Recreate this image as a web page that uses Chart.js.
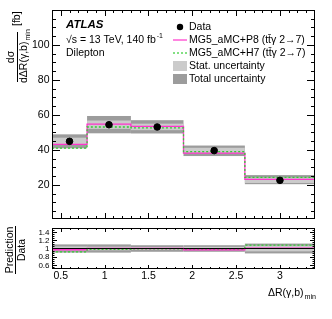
<!DOCTYPE html>
<html>
<head>
<meta charset="utf-8">
<script src="https://cdn.jsdelivr.net/npm/chart.js@4"></script>
<style>
  body { margin: 0; background: #fff; }
  #wrap { position: relative; width: 332px; height: 319px; }
  canvas { position: absolute; left: 0; }
  #mainChart { top: 0; }
  #ratioChart { top: 224px; }
</style>
</head>
<body>
<div id="wrap">
  <canvas id="mainChart" width="332" height="224"></canvas>
  <canvas id="ratioChart" width="332" height="95"></canvas>
</div>
<script>
// Binning and values
const binEdges = [0.4, 0.8, 1.3, 1.9, 2.6, 3.4];
const binCenters = [0.6, 1.05, 1.6, 2.25, 3.0];
const dataValues = [44.9, 54.4, 53.1, 39.6, 22.6];
const p8Values = [43.2, 54.7, 53.5, 38.2, 23.2];
const h7Values = [41.0, 53.1, 52.6, 39.0, 24.3];
const statUp = [2.1, 2.4, 1.9, 1.6, 1.6];
const statDown = [2.0, 2.4, 1.8, 1.6, 1.5];
const totalUp = [4.0, 5.0, 3.9, 2.9, 3.0];
const totalDown = [4.0, 4.9, 3.7, 3.1, 2.2];

// Ratio panel
const ratioP8 = [0.97, 1.0, 1.0, 0.97, 1.01];
const ratioH7 = [0.92, 0.98, 0.99, 0.99, 1.08];
const ratioStat = [0.05, 0.045, 0.036, 0.04, 0.07];
const ratioTotal = [0.1, 0.1, 0.08, 0.08, 0.12];

// Tick labels
const mainYTicks = [20, 40, 60, 80, 100];
const ratioYTicks = [0.6, 0.8, 1, 1.2, 1.4];
const xTicks = [0.5, 1, 1.5, 2, 2.5, 3];

const FONT = '"Liberation Sans", Arial, sans-serif';
const MAGENTA = '#ff33cc';
const GREEN = '#33cc33';
const STAT_COL = '#cbcbcb';
const TOTAL_COL = '#9c9c9c';

// step line points from bin edges (last bin repeated at the right edge)
function steps(vals) {
  return binEdges.map((x, i) => ({ x, y: vals[Math.min(i, vals.length - 1)] }));
}

// --- shared plugins ---
function bandPlugin(getBands) {
  return {
    id: 'bands',
    beforeDatasetsDraw(chart) {
      const { ctx, scales: { x, y }, chartArea } = chart;
      ctx.save();
      ctx.beginPath();
      ctx.rect(chartArea.left, chartArea.top, chartArea.width, chartArea.height);
      ctx.clip();
      getBands().forEach((b) => {
        ctx.fillStyle = b.color;
        for (let i = 0; i < b.lo.length; i++) {
          const x0 = x.getPixelForValue(binEdges[i]);
          const x1 = x.getPixelForValue(binEdges[i + 1]);
          const y0 = y.getPixelForValue(b.hi[i]);
          const y1 = y.getPixelForValue(b.lo[i]);
          ctx.fillRect(x0, y0, x1 - x0, y1 - y0);
        }
      });
      ctx.restore();
    }
  };
}

// frame, inward ROOT-style ticks and tick labels
function framePlugin(opt) {
  return {
    id: 'frame',
    afterDraw(chart) {
      const { ctx, scales: { x, y }, chartArea: a } = chart;
      ctx.save();
      ctx.strokeStyle = '#000';
      ctx.lineWidth = 1;
      ctx.strokeRect(Math.round(a.left) + 0.5, Math.round(a.top) + 0.5,
        Math.round(a.width) - 1, Math.round(a.height) - 1);
      ctx.beginPath();
      for (let v = opt.yMinorStart; v <= y.max + 1e-9; v += opt.yMinor) {
        const isMajor = Math.abs(v / opt.yMajor - Math.round(v / opt.yMajor)) < 1e-6;
        const len = isMajor ? opt.yMajorLen : opt.yMajorLen / 2;
        const py = Math.round(y.getPixelForValue(v)) + 0.5;
        if (py < a.top + 1 || py > a.bottom - 1) continue;
        ctx.moveTo(a.left, py); ctx.lineTo(a.left + len, py);
        ctx.moveTo(a.right, py); ctx.lineTo(a.right - len, py);
      }
      for (let v = 0.4; v <= x.max + 1e-9; v += 0.1) {
        const isMajor = Math.abs(v / 0.5 - Math.round(v / 0.5)) < 1e-6;
        const len = isMajor ? opt.xMajorLen : opt.xMajorLen / 2;
        const px = Math.round(x.getPixelForValue(v)) + 0.5;
        if (px < a.left + 1 || px > a.right - 1) continue;
        ctx.moveTo(px, a.bottom); ctx.lineTo(px, a.bottom - len);
        ctx.moveTo(px, a.top); ctx.lineTo(px, a.top + len);
      }
      ctx.stroke();

      ctx.fillStyle = '#000';
      ctx.textBaseline = 'middle';
      ctx.textAlign = 'right';
      ctx.font = opt.yLabelSize + 'px ' + FONT;
      opt.yLabels.forEach((v) => {
        ctx.fillText(String(v), a.left - 2.5, y.getPixelForValue(v) + 0.5);
      });
      if (opt.xLabels) {
        ctx.textAlign = 'center';
        ctx.font = '10.5px ' + FONT;
        opt.xLabels.forEach((v) => {
          ctx.fillText(String(v), x.getPixelForValue(v), a.bottom + 7.5);
        });
      }
      ctx.restore();
      if (opt.extra) opt.extra(chart);
    }
  };
}

function subText(ctx, main, sub, x, y, size) {
  ctx.font = size + 'px ' + FONT;
  ctx.fillText(main, x, y);
  const w = ctx.measureText(main).width;
  ctx.font = (size * 0.68) + 'px ' + FONT;
  ctx.fillText(sub, x + w + 1, y + size * 0.35);
  return w + ctx.measureText(sub).width + 1;
}

// labels on the main pad: ATLAS text, legend, y title
function mainLabels(chart) {
  const { ctx } = chart;
  ctx.save();
  ctx.fillStyle = '#000';
  ctx.textBaseline = 'middle';
  ctx.textAlign = 'left';
  ctx.font = 'italic bold 11.5px ' + FONT;
  ctx.fillText('ATLAS', 66, 25);
  ctx.font = '10.5px ' + FONT;
  ctx.fillText('\u221As = 13 TeV, 140 fb', 66, 40);
  const w = ctx.measureText('\u221As = 13 TeV, 140 fb').width;
  ctx.font = '7px ' + FONT;
  ctx.fillText('-1', 66 + w + 1, 36);
  ctx.font = '10.5px ' + FONT;
  ctx.fillText('Dilepton', 66, 53);

  // legend
  const lx = 173, tx = 189;
  const rows = [27, 40, 53, 66, 79];
  ctx.beginPath();
  ctx.arc(180, rows[0], 3.2, 0, Math.PI * 2);
  ctx.fill();
  ctx.strokeStyle = MAGENTA;
  ctx.lineWidth = 1.2;
  ctx.beginPath(); ctx.moveTo(lx, rows[1]); ctx.lineTo(lx + 14, rows[1]); ctx.stroke();
  ctx.strokeStyle = GREEN;
  ctx.setLineDash([2, 2]);
  ctx.beginPath(); ctx.moveTo(lx, rows[2]); ctx.lineTo(lx + 14, rows[2]); ctx.stroke();
  ctx.setLineDash([]);
  ctx.fillStyle = STAT_COL;
  ctx.fillRect(lx, rows[3] - 5, 14, 10);
  ctx.fillStyle = TOTAL_COL;
  ctx.fillRect(lx, rows[4] - 5, 14, 10);
  ctx.fillStyle = '#000';
  ctx.font = '10.5px ' + FONT;
  const labels = ['Data', 'MG5_aMC+P8 (tt\u0304\u03B3 2\u21927)', 'MG5_aMC+H7 (tt\u0304\u03B3 2\u21927)',
    'Stat. uncertainty', 'Total uncertainty'];
  labels.forEach((t, i) => ctx.fillText(t, tx, rows[i]));

  // y title
  ctx.translate(17.5, 57);
  ctx.rotate(-Math.PI / 2);
  ctx.textAlign = 'center';
  ctx.font = '10.5px ' + FONT;
  ctx.fillText('d\u03C3', 0, -6.5);
  ctx.fillRect(-25, -0.5, 50, 1);
  ctx.textAlign = 'left';
  subText(ctx, 'd\u0394R(\u03B3,b)', 'min', -26, 7, 10.5);
  ctx.font = '10.5px ' + FONT;
  ctx.fillText('[fb]', 31, 0);
  ctx.restore();
}

function ratioLabels(chart) {
  const { ctx } = chart;
  ctx.save();
  ctx.fillStyle = '#000';
  ctx.textBaseline = 'middle';
  ctx.textAlign = 'left';
  subText(ctx, '\u0394R(\u03B3,b)', 'min', 268, 69, 10.5);
  ctx.translate(15.5, 26);
  ctx.rotate(-Math.PI / 2);
  ctx.textAlign = 'center';
  ctx.font = '10.5px ' + FONT;
  ctx.fillText('Prediction', 0, -5);
  ctx.fillRect(-24, -0.5, 48, 1);
  ctx.fillText('Data', 0, 6.5);
  ctx.restore();
}

// --- main pad ---
new Chart(document.getElementById('mainChart'), {
  type: 'scatter',
  data: {
    datasets: [
      {
        label: 'Data',
        data: binCenters.map((x, i) => ({ x, y: dataValues[i] })),
        backgroundColor: '#000',
        borderColor: '#000',
        pointRadius: 3.3,
        order: 0
      },
      {
        label: 'MG5_aMC+P8',
        type: 'line',
        data: steps(p8Values),
        stepped: 'before',
        borderColor: MAGENTA,
        borderWidth: 1.3,
        pointRadius: 0,
        order: 2
      },
      {
        label: 'MG5_aMC+H7',
        type: 'line',
        data: steps(h7Values),
        stepped: 'before',
        borderColor: GREEN,
        borderWidth: 1.3,
        borderDash: [2, 2],
        pointRadius: 0,
        order: 1
      }
    ]
  },
  options: {
    responsive: false,
    animation: false,
    devicePixelRatio: 1,
    layout: { padding: { top: 10, right: 17, bottom: 1, left: 0 } },
    plugins: { legend: { display: false }, tooltip: { enabled: false } },
    scales: {
      x: { type: 'linear', min: 0.4, max: 3.4, display: false },
      y: {
        min: 0.5, max: 120,
        grid: { display: false },
        border: { display: false },
        afterFit: (s) => { s.width = 52; },
        ticks: { display: false }
      }
    }
  },
  plugins: [
    bandPlugin(() => [
      { color: TOTAL_COL, hi: dataValues.map((v, i) => v + totalUp[i]), lo: dataValues.map((v, i) => v - totalDown[i]) },
      { color: STAT_COL, hi: dataValues.map((v, i) => v + statUp[i]), lo: dataValues.map((v, i) => v - statDown[i]) }
    ]),
    framePlugin({
      yMajor: 20, yMinor: 5, yMinorStart: 5, yMajorLen: 8, xMajorLen: 6,
      yLabels: mainYTicks, yLabelSize: 10.5, extra: mainLabels
    })
  ]
});

// --- ratio pad ---
new Chart(document.getElementById('ratioChart'), {
  type: 'line',
  data: {
    datasets: [
      {
        label: 'Data',
        data: steps([1, 1, 1, 1, 1]),
        borderColor: '#000',
        borderWidth: 1,
        pointRadius: 0,
        order: 0
      },
      {
        label: 'MG5_aMC+P8',
        data: steps(ratioP8),
        stepped: 'before',
        borderColor: MAGENTA,
        borderWidth: 1.3,
        pointRadius: 0,
        order: 2
      },
      {
        label: 'MG5_aMC+H7',
        data: steps(ratioH7),
        stepped: 'before',
        borderColor: GREEN,
        borderWidth: 1.3,
        borderDash: [2, 2],
        pointRadius: 0,
        order: 1
      }
    ]
  },
  options: {
    responsive: false,
    animation: false,
    devicePixelRatio: 1,
    layout: { padding: { top: 4, right: 17, bottom: 50, left: 0 } },
    plugins: { legend: { display: false }, tooltip: { enabled: false } },
    scales: {
      x: { type: 'linear', min: 0.4, max: 3.4, display: false },
      y: {
        min: 0.5, max: 1.5,
        grid: { display: false },
        border: { display: false },
        afterFit: (s) => { s.width = 52; },
        ticks: { display: false }
      }
    }
  },
  plugins: [
    bandPlugin(() => [
      { color: TOTAL_COL, hi: ratioTotal.map((u) => 1 + u), lo: ratioTotal.map((u) => 1 - u) },
      { color: STAT_COL, hi: ratioStat.map((u) => 1 + u), lo: ratioStat.map((u) => 1 - u) }
    ]),
    framePlugin({
      yMajor: 0.2, yMinor: 0.05, yMinorStart: 0.5, yMajorLen: 5, xMajorLen: 4,
      yLabels: ratioYTicks, yLabelSize: 8, xLabels: xTicks, extra: ratioLabels
    })
  ]
});
</script>
</body>
</html>
